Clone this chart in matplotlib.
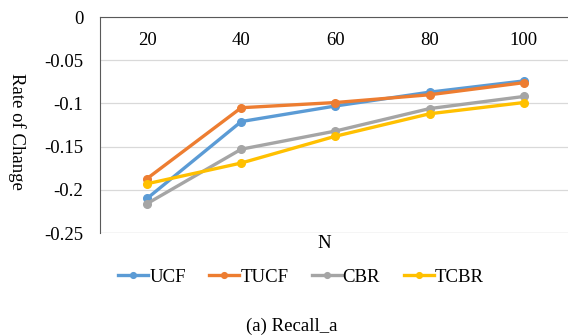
import matplotlib
matplotlib.use("Agg")
import matplotlib.pyplot as plt

categories = ["20", "40", "60", "80", "100"]
series_names = ["UCF", "TUCF", "CBR", "TCBR"]
ucf = [-0.210, -0.121, -0.103, -0.087, -0.074]
tucf = [-0.187, -0.105, -0.099, -0.090, -0.076]
cbr = [-0.216, -0.153, -0.132, -0.106, -0.092]
tcbr = [-0.193, -0.169, -0.138, -0.112, -0.099]
yticks = [0, -0.05, -0.1, -0.15, -0.2, -0.25]
ytick_labels = ["0", "-0.05", "-0.1", "-0.15", "-0.2", "-0.25"]
colors = ["#5B9BD5", "#ED7D31", "#A5A5A5", "#FFC000"]

plt.rcParams['font.family'] = ['Liberation Serif', 'DejaVu Serif']
FS = 13.5

fig = plt.figure(figsize=(5.68, 3.36), dpi=100)
ax = fig.add_axes([100/568, 1-233/336, 1-100/568, (233-17)/336])

x = list(range(len(categories)))
for vals, name, c in zip([ucf, tucf, cbr, tcbr], series_names, colors):
    ax.plot(x, vals, color=c, lw=2.4, marker='o', ms=5.5, label=name)

ax.set_xlim(-0.5, 4.47)
ax.set_ylim(-0.25, 0)
ax.set_yticks(yticks)
ax.set_yticklabels(ytick_labels, fontsize=FS)
ax.grid(axis='y', color='#D9D9D9', lw=0.9)
ax.set_axisbelow(True)
for s in ['right', 'bottom']:
    ax.spines[s].set_visible(False)
ax.spines['left'].set_color('#595959')
ax.spines['top'].set_color('#595959')
ax.tick_params(axis='y', length=0, pad=12)

ax.xaxis.tick_top()
ax.set_xticks(x)
ax.set_xticklabels(categories, fontsize=FS)
ax.tick_params(axis='x', length=0, pad=-23)

ax.axhline(-0.25, color='#D9D9D9', lw=0.9)

ax.set_ylabel("Rate of Change", fontsize=FS, rotation=270, va='center')
ax.yaxis.set_label_coords(-0.178, 0.47)

fig.text(324/568, 1-244/336, "N", fontsize=FS, ha='center', va='center')
fig.text(292/568, 1-326/336, "(a) Recall_a", fontsize=FS, ha='center', va='center')

fig.legend(loc='center', bbox_to_anchor=(301/568, 1-277/336), ncol=4, frameon=False,
           fontsize=FS, handlelength=1.6, handletextpad=0.05, columnspacing=1.25,
           markerscale=0.75, borderpad=0, borderaxespad=0)

fig.savefig("out.png", dpi=100)
